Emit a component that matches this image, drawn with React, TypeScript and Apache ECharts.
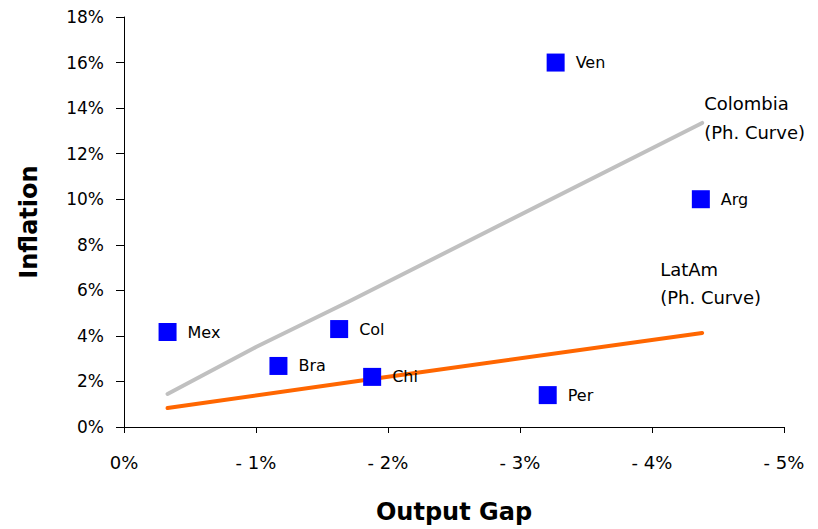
import React, { useEffect, useRef } from "react";
import * as echarts from "echarts";

const countries = ["Mex", "Bra", "Col", "Chi", "Per", "Ven", "Arg"];
const outputGap = [0.33, 1.17, 1.63, 1.88, 3.21, 3.27, 4.37];
const inflation = [4.17, 2.68, 4.3, 2.2, 1.4, 16.0, 10.0];

const colombiaX = [0.33, 1.0, 1.7, 4.38];
const colombiaY = [1.45, 3.51, 5.5, 13.35];
const latamX = [0.33, 1.88, 4.38];
const latamY = [0.83, 2.11, 4.13];

const xTicks = ["0%", "- 1%", "- 2%", "- 3%", "- 4%", "- 5%"];

const FONT = "DejaVu Sans";

export default function App() {
  const ref = useRef<HTMLDivElement>(null);
  useEffect(() => {
    if (!ref.current) return;
    const chart = echarts.init(ref.current, null, { renderer: "svg" });
    chart.setOption({
      animation: false,
      backgroundColor: "#ffffff",
      grid: { left: 124, right: 34, top: 17, bottom: 102, containLabel: false },
      xAxis: {
        type: "value",
        min: 0,
        max: 5,
        interval: 1,
        name: "Output Gap",
        nameLocation: "middle",
        nameGap: 73,
        nameTextStyle: { fontFamily: FONT, fontSize: 24, fontWeight: "bold", color: "#000" },
        axisLine: { show: true, onZero: false, lineStyle: { color: "#000", width: 1 } },
        axisTick: { show: true, length: 6, lineStyle: { color: "#000" } },
        splitLine: { show: false },
        axisLabel: {
          margin: 26,
          fontFamily: FONT,
          fontSize: 18,
          color: "#000",
          formatter: (v: number) => xTicks[Math.round(v)] ?? "",
        },
      },
      yAxis: {
        type: "value",
        min: 0,
        max: 18,
        interval: 2,
        name: "Inflation",
        nameLocation: "middle",
        nameGap: 83,
        nameRotate: 90,
        nameTextStyle: { fontFamily: FONT, fontSize: 24, fontWeight: "bold", color: "#000" },
        axisLine: { show: true, onZero: false, lineStyle: { color: "#000", width: 1 } },
        axisTick: { show: true, length: 8, lineStyle: { color: "#000" } },
        splitLine: { show: false },
        axisLabel: {
          margin: 20,
          fontFamily: FONT,
          fontSize: 17,
          color: "#000",
          formatter: (v: number) => v + "%",
        },
      },
      series: [
        {
          type: "line",
          data: colombiaX.map((x, i) => [x, colombiaY[i]]),
          showSymbol: false,
          lineStyle: { color: "#C0C0C0", width: 4, cap: "round" },
          z: 1,
        },
        {
          type: "line",
          data: latamX.map((x, i) => [x, latamY[i]]),
          showSymbol: false,
          lineStyle: { color: "#FF6600", width: 4, cap: "round" },
          z: 2,
        },
        {
          type: "scatter",
          symbol: "rect",
          symbolSize: 18,
          itemStyle: { color: "#0000FF", opacity: 1 },
          data: countries.map((c, i) => ({ value: [outputGap[i], inflation[i]], name: c })),
          label: {
            show: true,
            position: "right",
            distance: 11,
            fontFamily: FONT,
            fontSize: 16,
            color: "#000",
            formatter: (p: any) => p.name,
          },
          z: 3,
        },
      ],
    });
    const colEnd = chart.convertToPixel({ gridIndex: 0 }, [
      colombiaX[colombiaX.length - 1],
      colombiaY[colombiaY.length - 1],
    ]) as number[];
    const latEnd = chart.convertToPixel({ gridIndex: 0 }, [
      latamX[latamX.length - 1],
      latamY[latamY.length - 1],
    ]) as number[];
    chart.setOption({
      graphic: [
        {
          type: "text",
          left: colEnd[0] + 2,
          top: colEnd[1] - 34,
          style: {
            text: "Colombia\n(Ph. Curve)",
            font: `18px "${FONT}"`,
            fill: "#000",
            lineHeight: 29,
          },
        },
        {
          type: "text",
          left: latEnd[0] - 42,
          top: latEnd[1] - 77,
          style: {
            text: "LatAm\n(Ph. Curve)",
            font: `18px "${FONT}"`,
            fill: "#000",
            lineHeight: 28,
          },
        },
      ],
    });
    return () => chart.dispose();
  }, []);
  return (
    <div
      ref={ref}
      style={{ position: "fixed", left: 0, top: 0, width: 818, height: 529 }}
    />
  );
}
